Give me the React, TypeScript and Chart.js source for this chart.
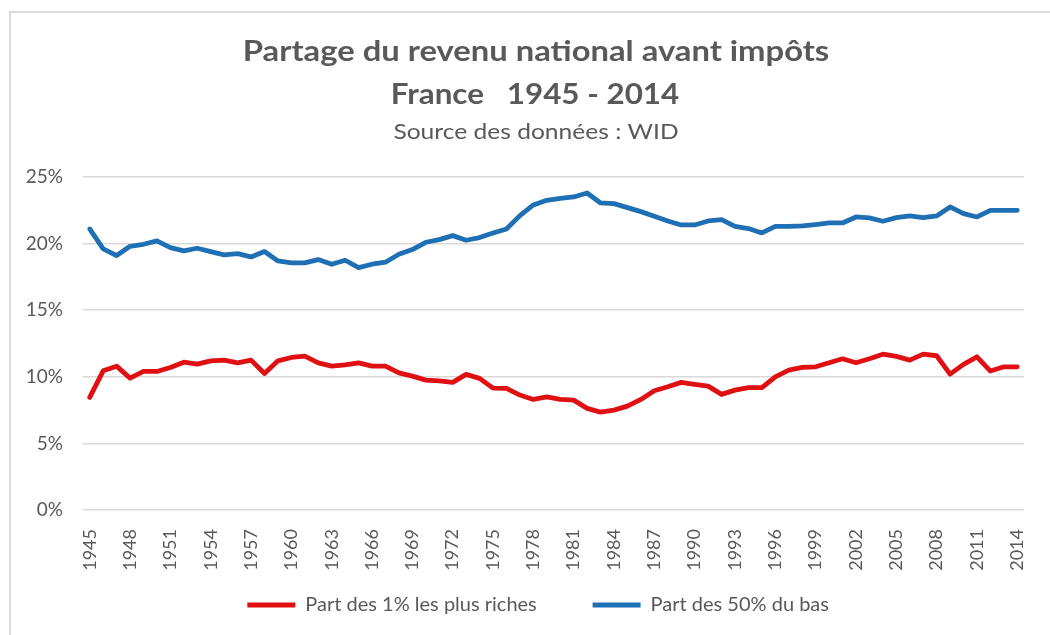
import React, { useEffect, useRef } from "react";
import { Chart, registerables } from "chart.js";

Chart.register(...registerables);

const years: string[] = [];
for (let y = 1945; y <= 2014; y++) years.push(String(y));

const top1: number[] = [
  8.45, 10.45, 10.8, 9.9, 10.4, 10.4, 10.7, 11.1, 10.95, 11.2,
  11.25, 11.05, 11.25, 10.25, 11.2, 11.45, 11.55, 11.05, 10.8, 10.9,
  11.05, 10.8, 10.8, 10.3, 10.05, 9.75, 9.7, 9.58, 10.18, 9.88,
  9.15, 9.13, 8.63, 8.3, 8.5, 8.3, 8.25, 7.63, 7.35, 7.5,
  7.8, 8.3, 8.95, 9.25, 9.58, 9.43, 9.3, 8.68, 9.0, 9.18,
  9.18, 10.0, 10.5, 10.7, 10.75, 11.05, 11.35, 11.05, 11.35, 11.7,
  11.53, 11.25, 11.7, 11.58, 10.2, 10.93, 11.5, 10.43, 10.75, 10.75,
];

const bottom50: number[] = [
  21.1, 19.6, 19.1, 19.8, 19.95, 20.2, 19.7, 19.45, 19.65, 19.4,
  19.15, 19.25, 19.0, 19.4, 18.7, 18.55, 18.55, 18.8, 18.45, 18.75,
  18.2, 18.45, 18.6, 19.2, 19.55, 20.1, 20.3, 20.6, 20.25, 20.45,
  20.8, 21.1, 22.1, 22.9, 23.25, 23.4, 23.5, 23.8, 23.05, 23.0,
  22.7, 22.4, 22.05, 21.7, 21.4, 21.4, 21.7, 21.8, 21.3, 21.13,
  20.8, 21.3, 21.3, 21.33, 21.43, 21.55, 21.55, 22.0, 21.93, 21.68,
  21.95, 22.08, 21.95, 22.08, 22.75, 22.25, 22.0, 22.5, 22.5, 22.5,
];

const seriesNames: string[] = ["Part des 1% les plus riches", "Part des 50% du bas"];
const titleLines: string[] = ["Partage du revenu national avant impôts", "France   1945 - 2014"];
const subtitleText = "Source des données : WID";

const RED = "#E00F12";
const BLUE = "#1F6FB5";
const TEXT = "#595959";

function stretchedText(ctx: any, text: string, cx: number, cy: number, sx: number) {
  ctx.save();
  ctx.translate(cx, cy);
  ctx.scale(sx, 1);
  ctx.fillText(text, 0, 0);
  ctx.restore();
}

const titlePlugin = {
  id: "customTitle",
  afterDraw(chart: any) {
    const ctx = chart.ctx;
    ctx.save();
    ctx.fillStyle = TEXT;
    ctx.textAlign = "center";
    ctx.textBaseline = "middle";
    ctx.font = "bold 28px Lato";
    stretchedText(ctx, titleLines[0], 536, 52, 1.17);
    stretchedText(ctx, titleLines[1], 535, 95, 1.12);
    ctx.font = "21px Lato";
    stretchedText(ctx, subtitleText, 536, 132, 1.17);
    ctx.restore();
  },
};

const SPACER1 = "       ";
const SPACER2 = "      ";

export default function App() {
  const ref = useRef<HTMLCanvasElement>(null);
  useEffect(() => {
    if (!ref.current) return;
    const chart = new Chart(ref.current, {
      type: "line",
      data: {
        labels: years,
        datasets: [
          {
            label: seriesNames[0],
            data: top1,
            borderColor: RED,
            backgroundColor: RED,
            borderWidth: 4.8,
            pointRadius: 0,
            tension: 0,
            borderJoinStyle: "round",
            borderCapStyle: "round",
          },
          {
            label: seriesNames[1],
            data: bottom50,
            borderColor: BLUE,
            backgroundColor: BLUE,
            borderWidth: 4.8,
            pointRadius: 0,
            tension: 0,
            borderJoinStyle: "round",
            borderCapStyle: "round",
          },
        ],
      },
      options: {
        responsive: false,
        animation: false,
        layout: { padding: { top: 177, left: 10, right: 15, bottom: 10 } },
        plugins: {
          tooltip: { enabled: false },
          legend: {
            position: "bottom",
            fullSize: false,
            labels: {
              boxWidth: 48,
              boxHeight: 5,
              padding: 20,
              color: TEXT,
              font: { family: "Lato", size: 20 },
              generateLabels(chart: any) {
                return chart.data.datasets.map((ds: any, i: number) => ({
                  text: ds.label + (i === 0 ? SPACER1 : SPACER2),
                  fillStyle: ds.borderColor,
                  strokeStyle: ds.borderColor,
                  lineWidth: 0,
                  fontColor: TEXT,
                  hidden: false,
                  datasetIndex: i,
                }));
              },
            },
          },
        },
        scales: {
          x: {
            offset: true,
            grid: { display: false },
            border: { display: false },
            afterFit(scale: any) {
              scale.height = 65;
            },
            ticks: {
              autoSkip: false,
              minRotation: 90,
              maxRotation: 90,
              padding: 11,
              color: TEXT,
              font: { family: "Lato", size: 18 },
              callback(_v: any, i: number) {
                return i % 3 === 0 ? years[i] : "";
              },
            },
          },
          y: {
            min: 0,
            max: 25,
            grid: { color: "#D9D9D9", lineWidth: 1.5, drawTicks: false },
            border: { display: false },
            afterFit(scale: any) {
              scale.width = 73;
            },
            ticks: {
              stepSize: 5,
              padding: 20,
              color: TEXT,
              font: { family: "Lato", size: 19 },
              callback(v: any) {
                return v + "%";
              },
            },
          },
        },
      },
      plugins: [titlePlugin],
    } as any);
    return () => chart.destroy();
  }, []);

  return (
    <div style={{ position: "absolute", left: 0, top: 0, width: 1050, height: 635, overflow: "hidden", background: "#fff" }}>
      <canvas ref={ref} width={1050} height={635} style={{ position: "absolute", left: 0, top: 0 }} />
      <div
        style={{
          position: "absolute",
          left: 9,
          top: 11,
          width: 1060,
          height: 640,
          border: "2px solid #D9D9D9",
          pointerEvents: "none",
        }}
      />
    </div>
  );
}
